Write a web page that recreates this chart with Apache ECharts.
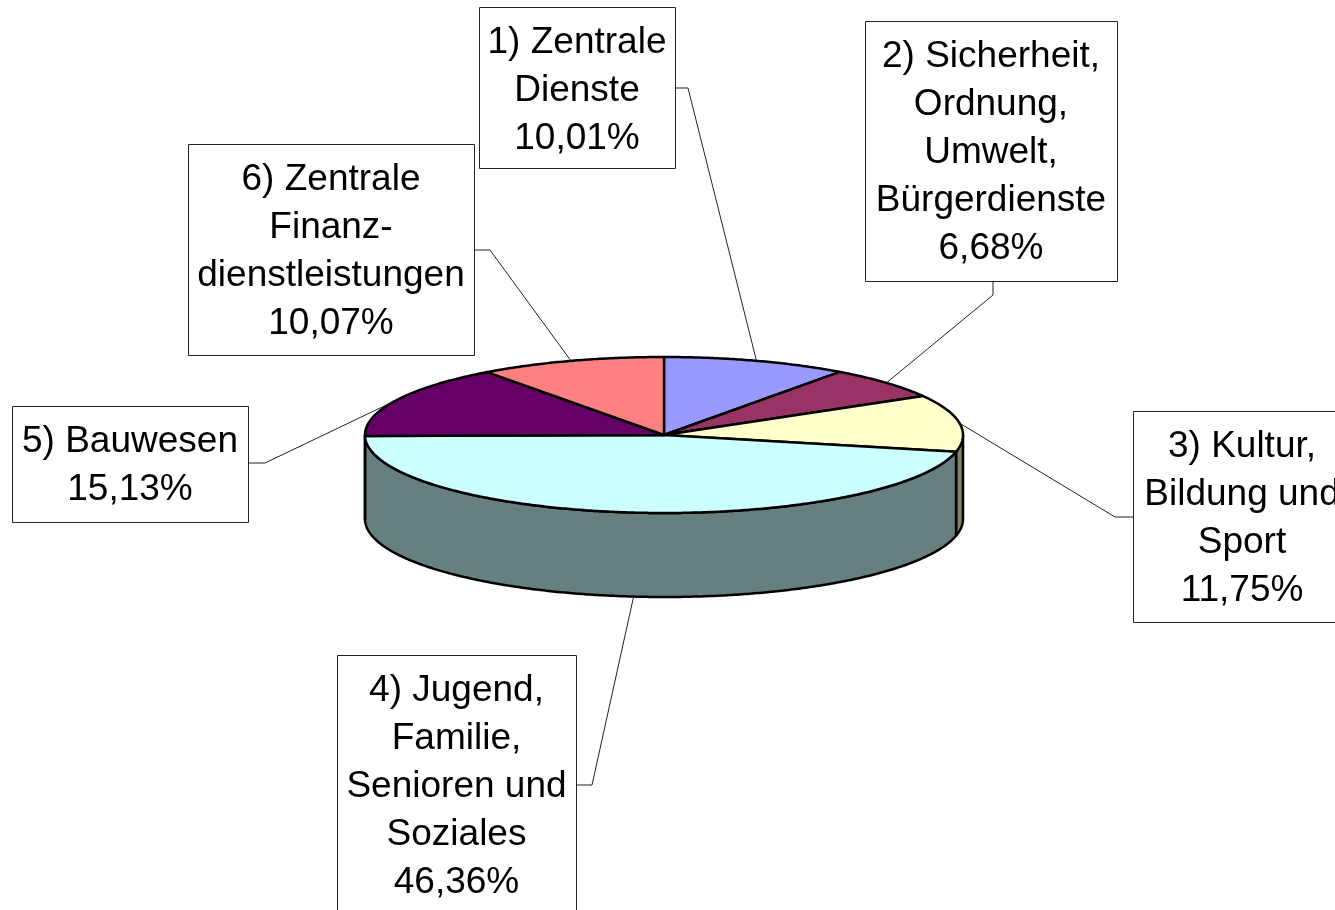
<!DOCTYPE html>
<html><head><meta charset="utf-8">
<script src="https://cdn.jsdelivr.net/npm/echarts@6.0.0/dist/echarts.min.js"></script>
<style>html,body{margin:0;padding:0;background:#fff}#c{width:1335px;height:910px}</style>
</head><body><div id="c"></div>
<script>
// ---- data ----
const categories = [
  '1) Zentrale\nDienste',
  '2) Sicherheit,\nOrdnung,\nUmwelt,\nBürgerdienste',
  '3) Kultur,\nBildung und\nSport',
  '4) Jugend,\nFamilie,\nSenioren und\nSoziales',
  '5) Bauwesen',
  '6) Zentrale\nFinanz-\ndienstleistungen'
];
const values = [10.01, 6.68, 11.75, 46.36, 15.13, 10.07];

// ---- styles / layout ----
const topColors  = ['#9999FF', '#993366', '#FFFFCC', '#CCFFFF', '#660066', '#FF8080'];
const sideColors = ['#4D4D80', '#4D1A33', '#808066', '#668080', '#330033', '#804040'];
const labelBoxes = [ // x, y, w, h
  [479, 7, 196, 161],
  [865, 21, 252, 260],
  [1133, 411, 218, 211],
  [337, 655, 239, 262],
  [12, 406, 236, 116],
  [188, 144, 286, 211]
];
const labelStubs = [ // box point, stub end
  [675, 88, 688, 88],
  [993, 281, 993, 295],
  [1133, 517, 1115, 517],
  [576, 785, 592, 785],
  [248, 463, 265, 463],
  [474, 250, 490, 250]
];
const PIE = { cx: 664, cy: 435, rx: 299, ry: 78, depth: 84 };
const FONT = '"Liberation Sans", Arial, sans-serif';

const total = values.reduce((a, b) => a + b, 0);
const cumBefore = values.map((v, i) => values.slice(0, i).reduce((a, b) => a + b, 0));

function pt(deg, dy) {
  const r = deg * Math.PI / 180;
  return [PIE.cx + PIE.rx * Math.cos(r), PIE.cy - PIE.ry * Math.sin(r) + (dy || 0)];
}
function arc(a, b, dy) { // from a to b (a > b), clockwise
  const pts = [];
  const n = Math.max(2, Math.ceil(Math.abs(a - b) / 0.5));
  for (let k = 0; k <= n; k++) pts.push(pt(a + (b - a) * k / n, dy));
  return pts;
}
function fmt(v) { return v.toFixed(2).replace('.', ',') + '%'; }

function renderItem(params, api) {
  const i = params.dataIndex;
  const v = api.value(0);
  const start = 90 - cumBefore[i] / total * 360;
  const end = start - v / total * 360;
  const children = [];

  // front wall (visible part between 0 and -180 degrees)
  const wa = Math.min(start, 0), wb = Math.max(end, -180);
  if (wa > wb) {
    const top = arc(wa, wb, 0);
    const bot = arc(wb, wa, PIE.depth);
    children.push({
      type: 'polygon', z2: 1,
      shape: { points: top.concat(bot) },
      style: { fill: sideColors[i], stroke: '#000', lineWidth: 2.5, lineJoin: 'round' }
    });
  }
  // top face
  children.push({
    type: 'polygon', z2: 2,
    shape: { points: [[PIE.cx, PIE.cy]].concat(arc(start, end, 0)) },
    style: { fill: topColors[i], stroke: '#000', lineWidth: 2.5, lineJoin: 'round' }
  });

  // leader line
  const mid = (start + end) / 2;
  const front = Math.sin(mid * Math.PI / 180) < 0;
  const anchor = pt(mid, front ? PIE.depth : 0);
  const s = labelStubs[i];
  children.push({
    type: 'polyline', z2: 3,
    shape: { points: [[s[0], s[1]], [s[2], s[3]], anchor] },
    style: { fill: null, stroke: '#222', lineWidth: 1 }
  });

  // label box
  const b = labelBoxes[i];
  children.push({
    type: 'rect', z2: 4,
    shape: { x: b[0] + 0.5, y: b[1] + 0.5, width: b[2], height: b[3] },
    style: { fill: '#fff', stroke: '#222', lineWidth: 1 }
  });
  children.push({
    type: 'text', z2: 5,
    x: b[0] + b[2] / 2, y: b[1] + 12,
    style: {
      text: categories[i] + '\n' + fmt(v),
      font: '37px ' + FONT,
      lineHeight: 48,
      fill: '#000',
      align: 'center',
      verticalAlign: 'top'
    }
  });
  return { type: 'group', children: children };
}

const chart = echarts.init(document.getElementById('c'), null, { renderer: 'canvas' });
chart.setOption({
  backgroundColor: '#fff',
  animation: false,
  series: [{
    type: 'custom',
    coordinateSystem: 'none',
    renderItem: renderItem,
    data: values.map((v, i) => ({ name: categories[i], value: [v] }))
  }]
});
</script>
</body></html>
